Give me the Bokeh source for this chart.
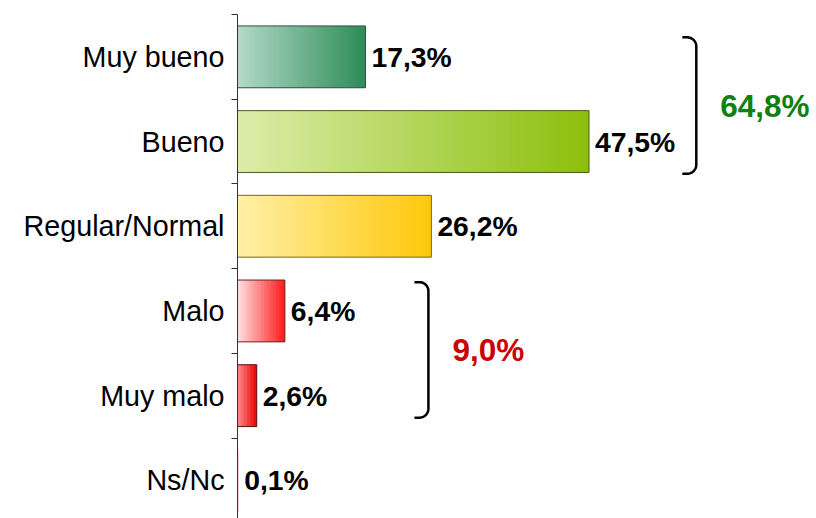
import numpy as np
from bokeh.plotting import figure
from bokeh.models import Range1d, FixedTicker, ColumnDataSource
from bokeh.core.properties import value
from bokeh.embed import file_html
from bokeh.resources import INLINE

# ---- data ----
categories = ["Muy bueno", "Bueno", "Regular/Normal", "Malo", "Muy malo", "Ns/Nc"]
values = [17.3, 47.5, 26.2, 6.4, 2.6, 0.1]
positive_group = [0, 1]   # Muy bueno + Bueno
negative_group = [3, 4]   # Malo + Muy malo

# ---- styles ----
grad_left = ["#b4dac8", "#dcedaa", "#fff0a8", "#ffe2e2", "#ff8c8c", "#ff8c8c"]
grad_right = ["#2c8c58", "#8cbf0c", "#ffc80a", "#ff1a1a", "#e80000", "#e80000"]
outline = ["#2f4f3f", "#4a5a20", "#7a6420", "#6a2020", "#5a1010", "#5a1010"]
FONT = "Liberation Sans"


def fmt(v):
    return f"{v:.1f}".replace(".", ",") + "%"


def hex2rgb(h):
    h = h.lstrip("#")
    return np.array([int(h[i:i + 2], 16) for i in (0, 2, 4)], dtype=float)


def rgb2hex(c):
    return "#%02x%02x%02x" % tuple(int(round(x)) for x in c)


W, H = 814, 518
BL, BT = 237, 14
PX_PER_UNIT = 7.4
PX_PER_BAND = 84.7
frame_w = W - BL
frame_h = H - BT
XMAX = frame_w / PX_PER_UNIT
YMAX = frame_h / PX_PER_BAND
sx = PX_PER_UNIT
sy = PX_PER_BAND

centers = [i + 0.5 for i in range(len(categories))]
bounds = list(range(len(categories) + 1))

p = figure(width=W, height=H, output_backend="svg", toolbar_location=None,
           x_range=Range1d(0, XMAX), y_range=Range1d(YMAX, 0),
           x_axis_location=None, min_border_left=BL, min_border_top=BT,
           min_border_right=0, min_border_bottom=0)
p.outline_line_color = None
p.xgrid.visible = False
p.ygrid.visible = False
p.background_fill_color = "white"
p.border_fill_color = "white"

ax = p.yaxis[0]
ax.ticker = FixedTicker(ticks=centers, minor_ticks=bounds)
ax.major_label_overrides = {c: cat for c, cat in zip(centers, categories)}
ax.major_tick_in = 0
ax.major_tick_out = 0
ax.minor_tick_in = 0
ax.minor_tick_out = 6
ax.minor_tick_line_color = "#333333"
ax.axis_line_color = "#333333"
ax.axis_line_width = 1
ax.major_label_standoff = 7
ax.major_label_text_font = FONT
ax.major_label_text_font_size = "28.7px"
ax.major_label_text_color = "black"

# ---- gradient bars (slices of ~3 px) ----
ys, lefts, rights, cols = [], [], [], []
for i, v in enumerate(values):
    cl, cr = hex2rgb(grad_left[i]), hex2rgb(grad_right[i])
    n = max(1, int(round(v * sx / 3)))
    for k in range(n):
        t = (k + 0.5) / n
        ys.append(centers[i])
        lefts.append(v * k / n)
        rights.append(min(v, v * (k + 1.5) / n))
        cols.append(rgb2hex(cl + (cr - cl) * t))
p.hbar(y=ys, left=lefts, right=rights, height=0.73, fill_color=cols, line_color=None)

outline_alpha = [1.0 if v * sx > 2 else 0.0 for v in values]
p.hbar(y=centers, left=0, right=values, height=0.73, fill_alpha=0,
       line_color=outline, line_alpha=outline_alpha, line_width=1)

# ---- value labels ----
src = ColumnDataSource(dict(x=values, y=centers, t=[fmt(v) for v in values]))
p.text(x="x", y="y", text="t", source=src, x_offset=6, text_align="left",
       text_baseline="middle", text_font=value(FONT), text_font_style="bold",
       text_font_size="28.3px", text_color="black")


# ---- brackets ----
def bracket(xv, ytop, ybot, arm=14, r=9):
    xs, yv = [], []
    xs.append(xv - arm / sx); yv.append(ytop)
    for t in np.linspace(-np.pi / 2, 0, 12):
        xs.append(xv + (-r + r * np.cos(t)) / sx)
        yv.append(ytop + (r + r * np.sin(t)) / sy)
    for t in np.linspace(0, np.pi / 2, 12):
        xs.append(xv + (-r + r * np.cos(t)) / sx)
        yv.append(ybot + (-r + r * np.sin(t)) / sy)
    xs.append(xv - arm / sx); yv.append(ybot)
    return xs, yv


groups = [
    (positive_group, 62.0, 0.27, 1.88, "#108010"),
    (negative_group, 25.8, 3.16, 4.76, "#cc0000"),
]
for idx, xv, yt, yb, col in groups:
    bx, by = bracket(xv, yt, yb)
    p.line(bx, by, line_color="black", line_width=2.5)
    total = sum(values[j] for j in idx)
    p.text(x=[xv], y=[(yt + yb) / 2], text=[fmt(total)], x_offset=24,
           text_align="left", text_baseline="middle", text_font=value(FONT),
           text_font_style="bold", text_font_size="31.5px", text_color=col)

open("out.html", "w").write(file_html(p, INLINE))
